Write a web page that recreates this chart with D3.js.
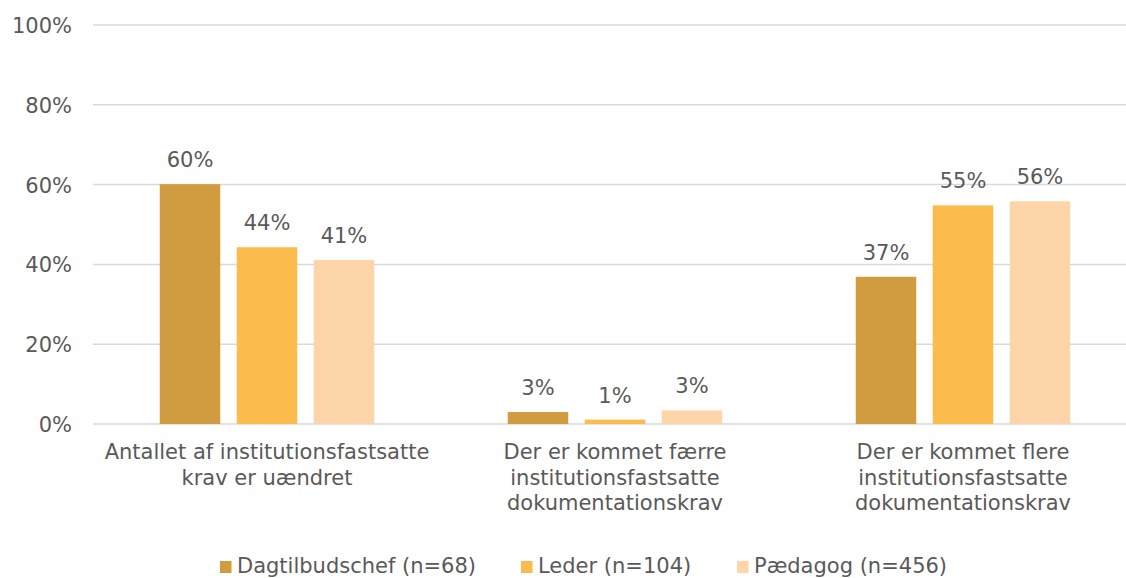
<!DOCTYPE html>
<html>
<head>
<meta charset="utf-8">
<script src="https://cdn.jsdelivr.net/npm/d3@7"></script>
<style>
  html, body { margin: 0; padding: 0; background: #fff; }
  svg { display: block; }
  text { font-family: "DejaVu Sans", Verdana, sans-serif; fill: #595959; }
</style>
</head>
<body>
<svg id="chart" width="1126" height="578"></svg>
<script>
const categories = [
  ["Antallet af institutionsfastsatte", "krav er uændret"],
  ["Der er kommet færre", "institutionsfastsatte", "dokumentationskrav"],
  ["Der er kommet flere", "institutionsfastsatte", "dokumentationskrav"]
];
const seriesNames = ["Dagtilbudschef (n=68)", "Leder (n=104)", "Pædagog (n=456)"];
const dagtilbudschef = [60.1, 3.0, 36.9];
const leder = [44.3, 1.1, 54.8];
const paedagog = [41.1, 3.4, 55.8];
const seriesValues = [dagtilbudschef, leder, paedagog];
const yTicks = [0, 20, 40, 60, 80, 100];
const colors = ["#D19C3F", "#FCBC4D", "#FDD5A8"];

const svg = d3.select("#chart");
const W = 1126;
const fs = 21;

const x0 = d3.scaleBand().domain(d3.range(categories.length)).range([93, 1137]).paddingInner(0).paddingOuter(0);
const x1 = d3.scaleBand().domain(d3.range(seriesNames.length)).range([0, x0.bandwidth()]).paddingInner(0.214).paddingOuter(0.867);
const y = d3.scaleLinear().domain([0, 100]).range([424, 25]);

// gridlines
svg.append("g").selectAll("line").data(yTicks).join("line")
  .attr("x1", 93).attr("x2", W)
  .attr("y1", d => y(d)).attr("y2", d => y(d))
  .attr("stroke", "#D9D9D9").attr("stroke-width", 1.5);

// y axis labels
const yAxis = d3.axisLeft(y).tickValues(yTicks).tickFormat(d => d + "%").tickSize(0).tickPadding(0);
const ga = svg.append("g").attr("transform", "translate(72,0)").call(yAxis);
ga.select(".domain").remove();
ga.selectAll("text").attr("font-size", fs).attr("font-family", "DejaVu Sans").attr("fill", "#595959").attr("dy", "0.36em");

// bars
const groups = svg.append("g").selectAll("g").data(categories).join("g")
  .attr("transform", (d, i) => `translate(${x0(i)},0)`);

groups.each(function(c, ci) {
  const g = d3.select(this);
  const vals = seriesValues.map(s => s[ci]);
  g.selectAll("rect").data(vals).join("rect")
    .attr("x", (d, si) => x1(si))
    .attr("width", x1.bandwidth())
    .attr("y", d => y(d))
    .attr("height", d => y(0) - y(d))
    .attr("fill", (d, si) => colors[si]);
  g.selectAll("text.val").data(vals).join("text")
    .attr("class", "val")
    .attr("x", (d, si) => x1(si) + x1.bandwidth() / 2)
    .attr("y", d => y(d) - 17)
    .attr("text-anchor", "middle")
    .attr("font-size", fs)
    .text(d => Math.round(d) + "%");
  const t = g.append("text")
    .attr("text-anchor", "middle")
    .attr("font-size", fs)
    .attr("x", x0.bandwidth() / 2)
    .attr("y", 459);
  c.forEach((line, li) => {
    t.append("tspan").attr("x", x0.bandwidth() / 2).attr("y", 459 + li * 25.7).text(line);
  });
});

// legend
const legendX = [220, 521, 737];
const lg = svg.append("g").selectAll("g").data(seriesNames).join("g")
  .attr("transform", (d, i) => `translate(${legendX[i]},0)`);
lg.append("rect").attr("x", 0).attr("y", 561).attr("width", 11.5).attr("height", 12)
  .attr("fill", (d, i) => colors[i]);
lg.append("text").attr("x", 17).attr("y", 573).attr("font-size", fs).text(d => d);
</script>
</body>
</html>
